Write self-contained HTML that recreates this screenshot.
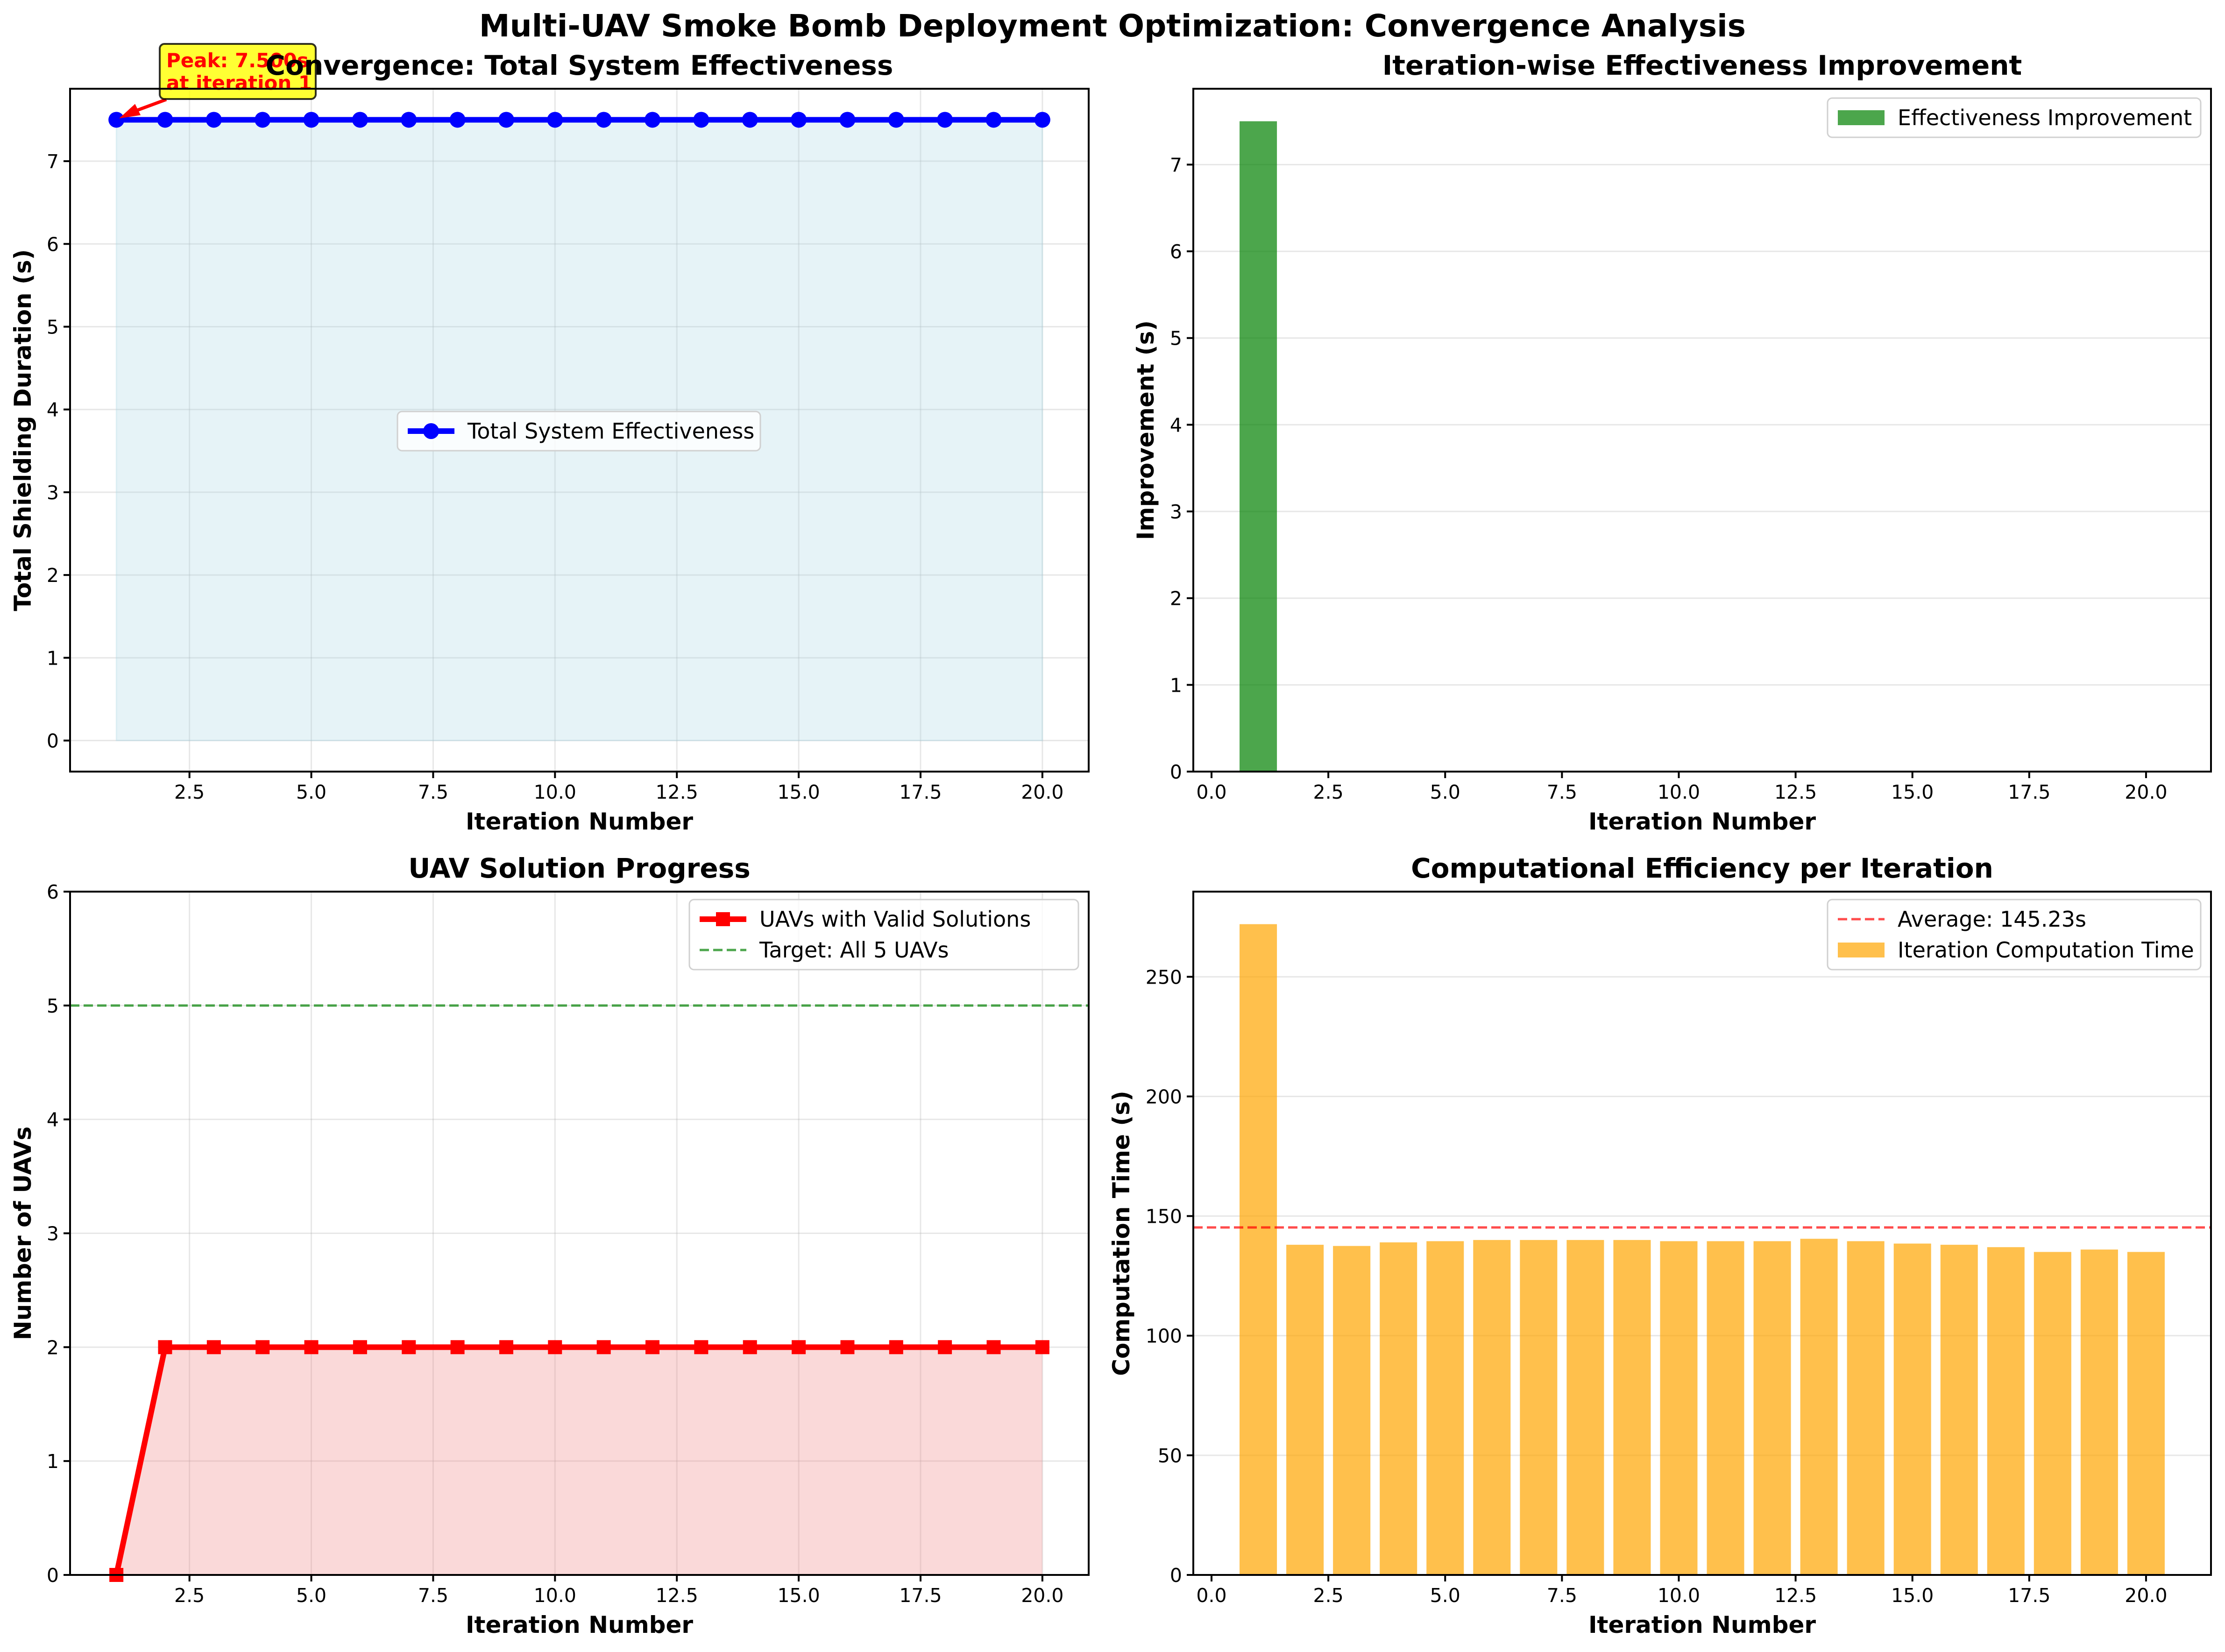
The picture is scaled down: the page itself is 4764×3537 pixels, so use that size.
<!DOCTYPE html>
<html><head><meta charset="utf-8"><style>
html,body{margin:0;padding:0;background:#fff}
svg{display:block;font-family:"DejaVu Sans","Liberation Sans",sans-serif}
</style></head><body>
<svg id="fig" width="4764" height="3537" viewBox="0 0 4764 3537" xmlns="http://www.w3.org/2000/svg">
<rect width="4764" height="3537" fill="#fff"/>
<text x="2382" y="78" text-anchor="middle" font-size="66" font-weight="bold">Multi-UAV Smoke Bomb Deployment Optimization: Convergence Analysis</text>
</svg>
<script>
const iterations=[1,2,3,4,5,6,7,8,9,10,11,12,13,14,15,16,17,18,19,20];
const effectiveness=[7.5,7.5,7.5,7.5,7.5,7.5,7.5,7.5,7.5,7.5,7.5,7.5,7.5,7.5,7.5,7.5,7.5,7.5,7.5,7.5];
const improvement=[7.5,0,0,0,0,0,0,0,0,0,0,0,0,0,0,0,0,0,0,0];
const validUavs=[0,2,2,2,2,2,2,2,2,2,2,2,2,2,2,2,2,2,2,2];
const compTime=[272,138,137.5,139,139.5,140,140,140,140,139.5,139.5,139.5,140.5,139.5,138.5,138,137,135,136,135];
const avgTime=145.23;
const targetUavs=5;
const xTicks=[2.5,5.0,7.5,10.0,12.5,15.0,17.5,20.0];
const xTicksBar=[0.0,2.5,5.0,7.5,10.0,12.5,15.0,17.5,20.0];
const yTicks1=[0,1,2,3,4,5,6,7];
const yTicks3=[0,1,2,3,4,5,6];
const yTicks4=[0,50,100,150,200,250];

const NS="http://www.w3.org/2000/svg";
const fig=document.getElementById('fig');
function el(tag,attrs,parent,text){const e=document.createElementNS(NS,tag);for(const k in attrs)e.setAttribute(k,attrs[k]);if(text!==undefined)e.textContent=text;(parent||fig).appendChild(e);return e;}

function panel(o){
  const g=el('g',{});
  
  
  const X=v=>o.L+(v-o.x0)/(o.x1-o.x0)*(o.R-o.L);
  const Y=v=>o.B-(v-o.y0)/(o.y1-o.y0)*(o.B-o.T);
  if(o.gridX) o.xt.forEach(t=>{const l=el('line',{x1:X(t),x2:X(t),y1:o.T,y2:o.B,stroke:'#b0b0b0','stroke-opacity':0.3,'stroke-width':3},g);});
  o.yt.forEach(t=>{const l=el('line',{x1:o.L,x2:o.R,y1:Y(t),y2:Y(t),stroke:'#b0b0b0','stroke-opacity':0.3,'stroke-width':3},g);});
  o.draw(g,X,Y);
  const f=el('rect',{x:o.L,y:o.T,width:o.R-o.L,height:o.B-o.T,fill:'none',stroke:'#000','stroke-width':4},g);
  
  o.xt.forEach(t=>{el('line',{x1:X(t),x2:X(t),y1:o.B,y2:o.B+14,stroke:'#000','stroke-width':4},g);
    const tx=el('text',{x:X(t),y:o.B+58,'text-anchor':'middle','font-size':41},g,t.toFixed(1));
    });
  o.yt.forEach(t=>{el('line',{x1:o.L-14,x2:o.L,y1:Y(t),y2:Y(t),stroke:'#000','stroke-width':4},g);
    const tx=el('text',{x:o.L-24,y:Y(t)+15,'text-anchor':'end','font-size':41},g,String(t));
    });
  const ti=el('text',{x:(o.L+o.R)/2,y:o.T-30,'text-anchor':'middle','font-size':58,'font-weight':'bold'},g,o.title);
  
  const xl=el('text',{x:(o.L+o.R)/2,y:o.B+124,'text-anchor':'middle','font-size':50,'font-weight':'bold'},g,'Iteration Number');
  
  const yx=o.yl;const yc=(o.T+o.B)/2;
  const yl=el('text',{x:yx,y:yc,'text-anchor':'middle','font-size':50,'font-weight':'bold',transform:`rotate(-90 ${yx} ${yc})`},g,o.ylabel);
  
  return {g,X,Y};
}
function legend(g,x,y,w,entries){
  const h=entries.length*66+18;
  const lg=el('g',{},g);
  
  el('rect',{x,y,width:w,height:h,rx:10,fill:'#fff','fill-opacity':0.8,stroke:'#d0d0d0','stroke-width':3},lg);
  entries.forEach((e,i)=>{const cy=y+42+i*66;e.sym(lg,x+22,cy);
    const t=el('text',{x:x+150,y:cy+16,'font-size':46},lg,e.label);
    });
}

panel({name:'effectiveness-panel',L:150,R:2331,T:190,B:1652,x0:0.05,x1:20.95,y0:-0.375,y1:7.875,xt:xTicks,yt:yTicks1,gridX:true,
 title:'Convergence: Total System Effectiveness',ylabel:'Total Shielding Duration (s)',yl:66,
 draw:(g,X,Y)=>{
  let d=`M${X(iterations[0])},${Y(0)}`;iterations.forEach((it,i)=>d+=`L${X(it)},${Y(effectiveness[i])}`);d+=`L${X(iterations[iterations.length-1])},${Y(0)}Z`;
  const a=el('path',{d,fill:'#add8e6','fill-opacity':0.3,stroke:'#add8e6','stroke-opacity':0.3,'stroke-width':3},g);
  
  const pts=iterations.map((it,i)=>`${X(it)},${Y(effectiveness[i])}`).join(' ');
  const l=el('polyline',{points:pts,fill:'none',stroke:'#0000ff','stroke-width':12},g);
  
  iterations.forEach((it,i)=>{const c=el('circle',{cx:X(it),cy:Y(effectiveness[i]),r:17,fill:'#0000ff'},g);
    });
  legend(g,851,881,777,[{label:'Total System Effectiveness',sym:(p,x,y)=>{el('line',{x1:x,x2:x+100,y1:y,y2:y,stroke:'#0000ff','stroke-width':12},p);el('circle',{cx:x+50,cy:y,r:17,fill:'#0000ff'},p);}}]);
  const px=X(iterations[0]),py=Y(effectiveness[0]);
  const an=el('g',{},g);
  el('line',{x1:356,y1:213,x2:px+22,y2:py-12,stroke:'#ff0000','stroke-width':7},an);
  el('polygon',{points:`${px+6},${py-3} ${px+40},${py-34} ${px+52},${py-10}`,fill:'#ff0000'},an);
  el('rect',{x:342,y:94,width:334,height:118,rx:10,fill:'#ffff00','fill-opacity':0.8,stroke:'#000','stroke-opacity':0.8,'stroke-width':4},an);
  el('text',{x:356,y:144,'font-size':42,'font-weight':'bold',fill:'#ff0000'},an,'Peak: '+effectiveness[0].toFixed(3)+'s');
  el('text',{x:356,y:192,'font-size':42,'font-weight':'bold',fill:'#ff0000'},an,'at iteration '+iterations[0]);
 }});

panel({name:'improvement-panel',L:2555,R:4734,T:190,B:1652,x0:-0.39,x1:21.39,y0:0,y1:7.875,xt:xTicksBar,yt:yTicks1,gridX:false,
 title:'Iteration-wise Effectiveness Improvement',ylabel:'Improvement (s)',yl:2470,
 draw:(g,X,Y)=>{
  iterations.forEach((it,i)=>{const b=el('rect',{x:X(it-0.4),y:Y(improvement[i]),width:X(it+0.4)-X(it-0.4),height:Math.max(0,Y(0)-Y(improvement[i])),fill:'#008000','fill-opacity':0.7},g);
    });
  legend(g,3913,210,799,[{label:'Effectiveness Improvement',sym:(p,x,y)=>{el('rect',{x,y:y-16,width:100,height:32,fill:'#008000','fill-opacity':0.7},p);}}]);
 }});

panel({name:'uav-progress-panel',L:150,R:2331,T:1909,B:3372,x0:0.05,x1:20.95,y0:0,y1:6,xt:xTicks,yt:yTicks3,gridX:true,
 title:'UAV Solution Progress',ylabel:'Number of UAVs',yl:66,
 draw:(g,X,Y)=>{
  let d=`M${X(iterations[0])},${Y(0)}`;iterations.forEach((it,i)=>d+=`L${X(it)},${Y(validUavs[i])}`);d+=`L${X(iterations[iterations.length-1])},${Y(0)}Z`;
  const a=el('path',{d,fill:'#f08080','fill-opacity':0.3},g);
  
  const t=el('line',{x1:150,x2:2331,y1:Y(targetUavs),y2:Y(targetUavs),stroke:'#008000','stroke-opacity':0.7,'stroke-width':5,'stroke-dasharray':'20 9'},g);
  
  const pts=iterations.map((it,i)=>`${X(it)},${Y(validUavs[i])}`).join(' ');
  const l=el('polyline',{points:pts,fill:'none',stroke:'#ff0000','stroke-width':12},g);
  
  iterations.forEach((it,i)=>{const s=el('rect',{x:X(it)-15,y:Y(validUavs[i])-15,width:30,height:30,fill:'#ff0000'},g);
    });
  legend(g,1476,1926,833,[
   {label:'UAVs with Valid Solutions',sym:(p,x,y)=>{el('line',{x1:x,x2:x+100,y1:y,y2:y,stroke:'#ff0000','stroke-width':12},p);el('rect',{x:x+35,y:y-15,width:30,height:30,fill:'#ff0000'},p);}},
   {label:'Target: All 5 UAVs',sym:(p,x,y)=>{el('line',{x1:x,x2:x+100,y1:y,y2:y,stroke:'#008000','stroke-opacity':0.7,'stroke-width':5,'stroke-dasharray':'20 9'},p);}}]);
 }});

panel({name:'computation-panel',L:2555,R:4734,T:1909,B:3372,x0:-0.39,x1:21.39,y0:0,y1:285.6,xt:xTicksBar,yt:yTicks4,gridX:false,
 title:'Computational Efficiency per Iteration',ylabel:'Computation Time (s)',yl:2418,
 draw:(g,X,Y)=>{
  iterations.forEach((it,i)=>{const b=el('rect',{x:X(it-0.4),y:Y(compTime[i]),width:X(it+0.4)-X(it-0.4),height:Y(0)-Y(compTime[i]),fill:'#ffa500','fill-opacity':0.7},g);
    });
  const a=el('line',{x1:2555,x2:4734,y1:Y(avgTime),y2:Y(avgTime),stroke:'#ff0000','stroke-opacity':0.7,'stroke-width':5,'stroke-dasharray':'20 9'},g);
  
  legend(g,3913,1926,799,[
   {label:'Average: '+avgTime.toFixed(2)+'s',sym:(p,x,y)=>{el('line',{x1:x,x2:x+100,y1:y,y2:y,stroke:'#ff0000','stroke-opacity':0.7,'stroke-width':5,'stroke-dasharray':'20 9'},p);}},
   {label:'Iteration Computation Time',sym:(p,x,y)=>{el('rect',{x,y:y-16,width:100,height:32,fill:'#ffa500','fill-opacity':0.7},p);}}]);
 }});
</script>
</body></html>
